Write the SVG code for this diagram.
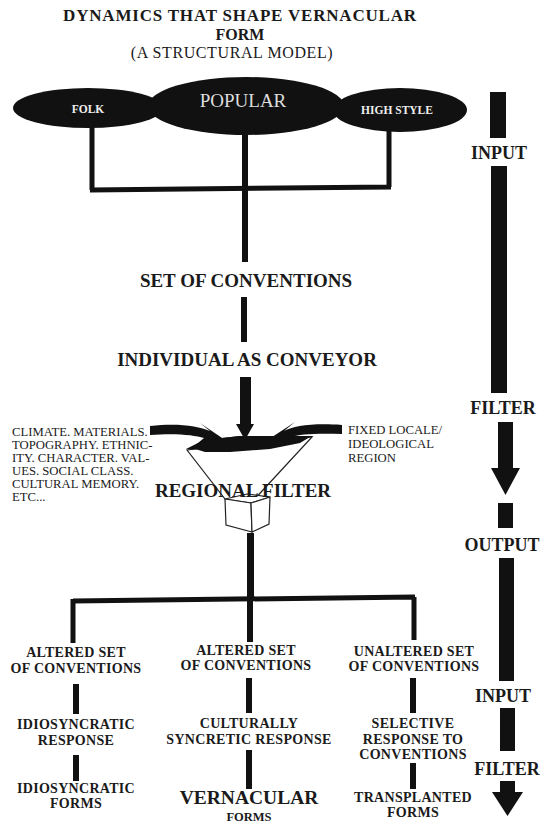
<svg xmlns="http://www.w3.org/2000/svg" width="546" height="823" viewBox="0 0 546 823">
<style>
.t{font-family:"Liberation Serif","Times New Roman",serif;fill:#1a1a1a;text-anchor:middle}
.b{font-weight:bold}
.s{font-size:14px;font-weight:bold;letter-spacing:0.3px}
.m{font-size:19px;font-weight:bold}
.r{font-size:18px;font-weight:bold}
.l{font-family:"Liberation Serif","Times New Roman",serif;fill:#1a1a1a;font-size:12.7px}
.ln{stroke:#111;fill:none}
.bk{fill:#111}
</style>
<rect width="546" height="823" fill="#ffffff"/>
<g id="title">
<text class="t b" x="240" y="21" font-size="17" letter-spacing="0.8">DYNAMICS THAT SHAPE VERNACULAR</text>
<text class="t b" x="240" y="40" font-size="16">FORM</text>
<text class="t" x="232" y="58" font-size="16" letter-spacing="0.6">(A STRUCTURAL MODEL)</text>
</g>
<g id="folk">
<ellipse class="bk" cx="88" cy="108" rx="75" ry="20"/>
<text class="t b" x="88" y="113" font-size="11.5" style="fill:#eee">FOLK</text>
</g>
<g id="highstyle">
<ellipse class="bk" cx="400" cy="110" rx="67" ry="22"/>
<text class="t b" x="397" y="114" font-size="11.5" style="fill:#eee">HIGH STYLE</text>
</g>
<g id="popular">
<ellipse class="bk" cx="246" cy="106" rx="98" ry="29"/>
<text class="t" x="243" y="107" font-size="19" style="fill:#ddd">POPULAR</text>
</g>
<g id="connectors">
<path class="ln" stroke-width="5" d="M92,122 V190 M389,126 V187 M90,190 L391,187"/>
<path class="ln" stroke-width="6" d="M245,132 V262 M244,297 V342"/>
<rect class="bk" x="240" y="377" width="11" height="48"/>
<polygon class="bk" points="236,424 254,424 245,440"/>
<path class="bk" d="M150,426 C178,423 198,426 210,431 L200,423 L228,442 L192,448 L204,438 C194,435 176,433 150,435 Z"/>
<path class="bk" d="M342,425 C312,423 294,426 284,431 L295,422 L266,441 L300,447 L290,437 C300,434 318,433 342,434 Z"/>
<path class="bk" d="M186,449 L204,440 L240,436 L280,436 L313,436 L306,443 L284,450 L250,455 L215,455 Z"/>
<rect class="bk" x="247" y="533" width="7" height="67"/>
<path class="ln" stroke-width="5" d="M73,601 L415,597 M73,599 V643 M414,597 V640"/>
<path class="ln" stroke-width="6" d="M250,598 V642 M76,684 V714 M76,755 V781 M249,678 V713 M249,750 V789 M413,678 V713 M413,763 V789"/>
</g>
<g id="funnel">
<polygon points="187,450 312,437 251,503 225,499" fill="#fff" stroke="#222" stroke-width="1.2"/>
<path class="bk" d="M192,448 L204,440 L240,436 L280,436 L310,437 L300,443 L270,449 L230,452 L205,452 Z"/>
<polygon points="225,499 247,494 270,497 251,503" fill="#fff" stroke="#222" stroke-width="1.2"/>
<polygon points="225,499 251,503 252,532 226,525" fill="#fff" stroke="#222" stroke-width="1.2"/>
<polygon points="251,503 270,497 269,524 252,532" fill="#fff" stroke="#222" stroke-width="1.2"/>
<text class="t m" x="243" y="497">REGIONAL FILTER</text>
</g>
<g id="factors">
<text class="l" x="12" y="436">CLIMATE. MATERIALS.</text>
<text class="l" x="12" y="449">TOPOGRAPHY. ETHNIC-</text>
<text class="l" x="12" y="462">ITY. CHARACTER. VAL-</text>
<text class="l" x="12" y="475">UES. SOCIAL CLASS.</text>
<text class="l" x="12" y="488">CULTURAL MEMORY.</text>
<text class="l" x="12" y="501">ETC...</text>
</g>
<g id="locale">
<text class="l" x="348" y="434">FIXED LOCALE/</text>
<text class="l" x="348" y="448">IDEOLOGICAL</text>
<text class="l" x="348" y="462">REGION</text>
</g>
<g id="conventions"><text class="t m" x="246" y="287">SET OF CONVENTIONS</text></g>
<g id="individual"><text class="t m" x="247" y="366">INDIVIDUAL AS CONVEYOR</text></g>
<g id="col1">
<text class="t s" x="76" y="657">ALTERED SET</text>
<text class="t s" x="76" y="673">OF CONVENTIONS</text>
<text class="t s" x="76" y="729">IDIOSYNCRATIC</text>
<text class="t s" x="76" y="745">RESPONSE</text>
<text class="t s" x="76" y="793">IDIOSYNCRATIC</text>
<text class="t s" x="76" y="808">FORMS</text>
</g>
<g id="col2">
<text class="t s" x="246" y="655">ALTERED SET</text>
<text class="t s" x="246" y="670">OF CONVENTIONS</text>
<text class="t s" x="249" y="728">CULTURALLY</text>
<text class="t s" x="249" y="744">SYNCRETIC RESPONSE</text>
<text class="t b" x="249" y="804" font-size="19.5">VERNACULAR</text>
<text class="t b" x="249" y="821" font-size="12.5">FORMS</text>
</g>
<g id="col3">
<text class="t s" x="414" y="656">UNALTERED SET</text>
<text class="t s" x="414" y="671">OF CONVENTIONS</text>
<text class="t s" x="413" y="728">SELECTIVE</text>
<text class="t s" x="413" y="744">RESPONSE TO</text>
<text class="t s" x="413" y="759">CONVENTIONS</text>
<text class="t s" x="413" y="802">TRANSPLANTED</text>
<text class="t s" x="413" y="817">FORMS</text>
</g>
<g id="process">
<rect class="bk" x="490" y="92" width="16" height="46"/>
<text class="t r" x="499" y="159">INPUT</text>
<rect class="bk" x="491" y="166" width="16" height="227"/>
<text class="t r" x="503" y="414">FILTER</text>
<rect class="bk" x="498" y="422" width="15" height="47"/>
<polygon class="bk" points="491,468 520,468 505.5,495"/>
<rect class="bk" x="498" y="503" width="15" height="25"/>
<text class="t r" x="502" y="551">OUTPUT</text>
<rect class="bk" x="499" y="558" width="15" height="123"/>
<text class="t r" x="503" y="702">INPUT</text>
<rect class="bk" x="500" y="708" width="15" height="43"/>
<text class="t r" x="507" y="775">FILTER</text>
<rect class="bk" x="500" y="781" width="15" height="12"/>
<polygon class="bk" points="492,792 523,792 507.5,816"/>
</g>
</svg>
